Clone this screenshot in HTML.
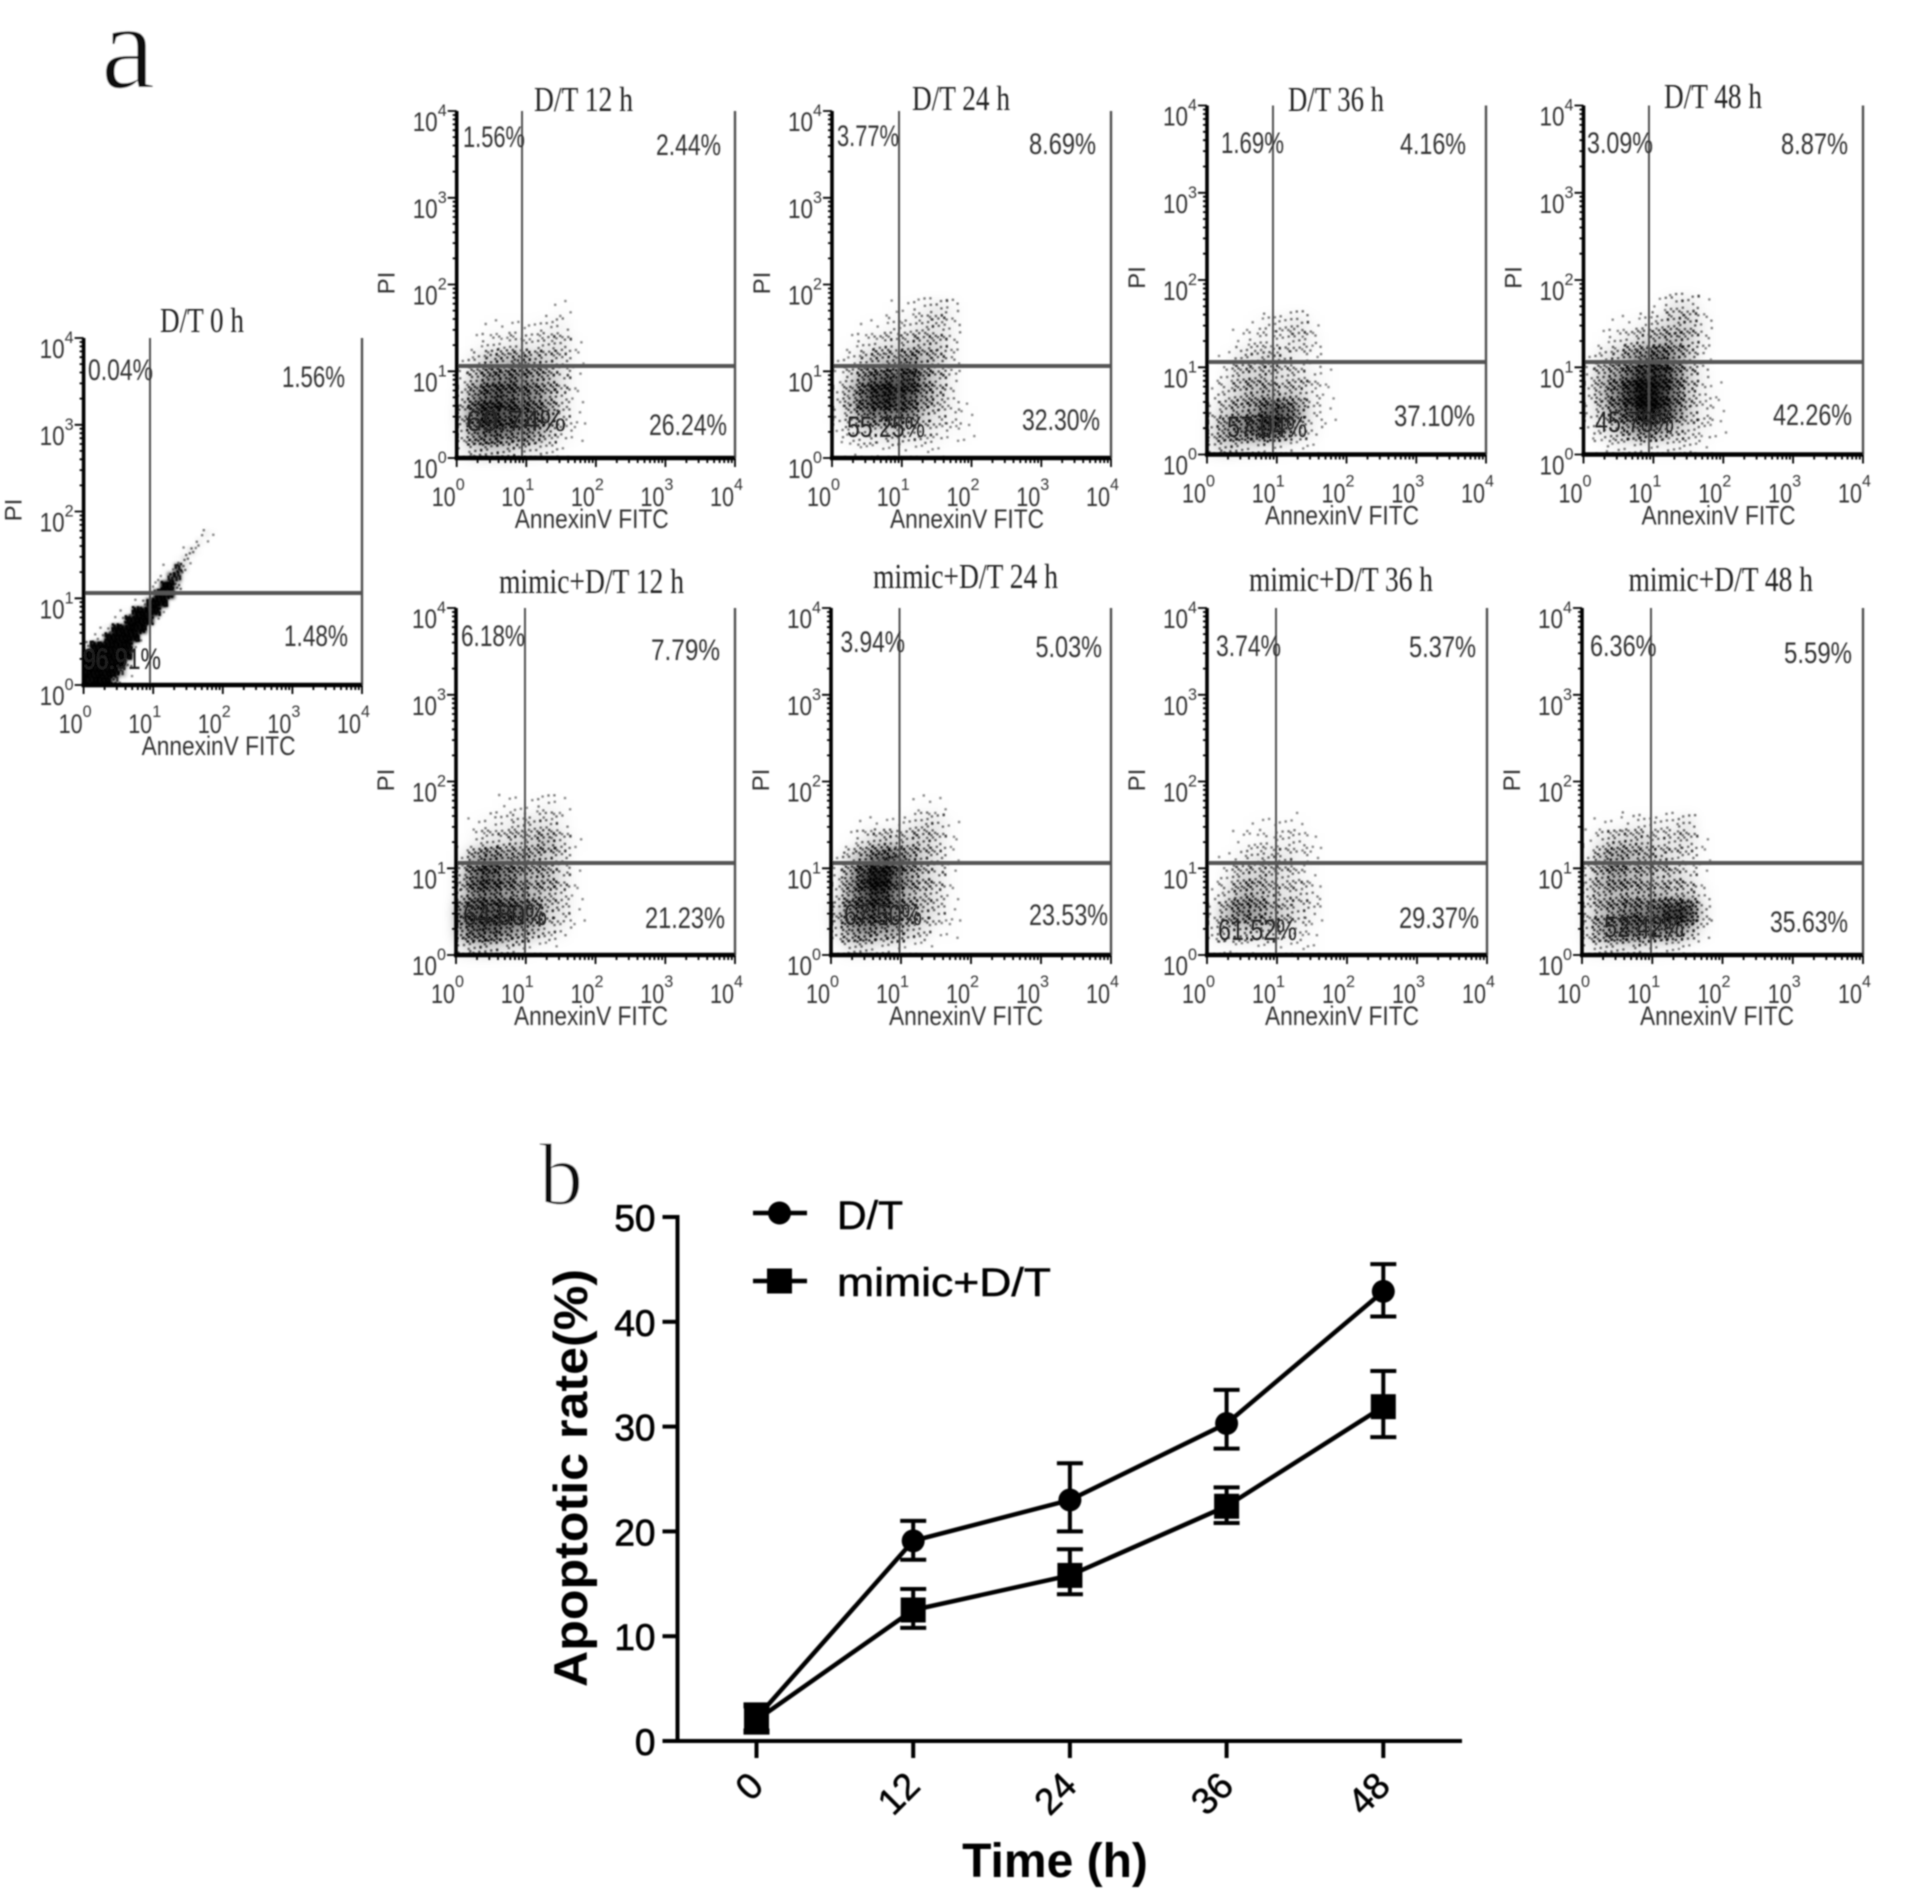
<!DOCTYPE html>
<html lang="en">
<head>
<meta charset="utf-8">
<title>Apoptosis flow cytometry and apoptotic rate</title>
<style>
html,body{margin:0;padding:0;background:#fff;}
svg{display:block;}
text{font-family:"Liberation Sans",sans-serif;}
.serif{font-family:"Liberation Serif",serif;}
</style>
</head>
<body>
<svg id="figure" xmlns="http://www.w3.org/2000/svg" width="1908" height="1898" viewBox="0 0 1908 1898">
<defs>
<filter id="soft" x="-2%" y="-2%" width="104%" height="104%"><feGaussianBlur stdDeviation="0.8"/></filter>
<filter id="toneWide" x="-20%" y="-20%" width="140%" height="140%"><feGaussianBlur stdDeviation="6"/></filter>
<filter id="toneTight" x="-20%" y="-20%" width="140%" height="140%"><feGaussianBlur stdDeviation="1.6"/></filter>
</defs>
<rect x="0" y="0" width="1908" height="1898" fill="#fff"/>
<g id="panelA" filter="url(#soft)"></g>
<g id="panelB" filter="url(#soft)"></g>
</svg>
<script>
// ---------- Panel a data ----------
const panelTitles = ['D/T 0 h','D/T 12 h','D/T 24 h','D/T 36 h','D/T 48 h','mimic+D/T 12 h','mimic+D/T 24 h','mimic+D/T 36 h','mimic+D/T 48 h'];
const upperLeftPercents = ['0.04%','1.56%','3.77%','1.69%','3.09%','6.18%','3.94%','3.74%','6.36%'];
const upperRightPercents = ['1.56%','2.44%','8.69%','4.16%','8.87%','7.79%','5.03%','5.37%','5.59%'];
const lowerLeftPercents = ['96.91%','69.74%','55.25%','57.04%','45.78%','64.80%','67.50%','61.52%','52.42%'];
const lowerRightPercents = ['1.48%','26.24%','32.30%','37.10%','42.26%','21.23%','23.53%','29.37%','35.63%'];
const decadeExponents = [0,1,2,3,4];
const minorMultipliers = [2,3,4,5,6,7,8,9];
const gateLogX = [0.954,0.939,0.961,0.946,0.937,0.989,0.979,0.986,0.982];
const gateLogY = [1.06,1.06,1.06,1.06,1.06,1.06,1.06,1.06,1.06];

// Estimated event density (0-10) in decade bins.
// Rows run from PI 2.0 decades (top) to 0 (bottom); columns from Annexin V 0 to 2.0 decades.
const density0h = [
[0,0,0,0,0,0,0,0,0,0,0,0,0,0,0,0,0,0,0,0],
[0,0,0,0,0,0,0,0,0,0,0,0,0,0,0,0,0,0,0,0],
[0,0,0,0,0,0,0,0,0,0,0,0,0,0,0,0,0,2,1,0],
[0,0,0,0,0,0,0,0,0,0,0,0,0,0,0,0,2,1,0,0],
[0,0,0,0,0,0,0,0,0,0,0,0,0,0,1,3,1,0,0,0],
[0,0,0,0,0,0,0,0,0,0,0,0,0,1,3,1,0,0,0,0],
[0,0,0,0,0,0,0,0,0,0,0,1,1,8,3,0,0,0,0,0],
[0,0,0,0,0,0,0,0,0,0,1,1,8,8,1,0,0,0,0,0],
[0,0,0,0,0,0,0,0,0,1,1,10,10,4,0,0,0,0,0,0],
[0,0,0,0,0,0,0,0,1,1,10,10,10,0,0,0,0,0,0,0],
[0,0,0,0,0,0,0,1,2,10,10,10,0,0,0,0,0,0,0,0],
[0,0,0,0,0,1,1,10,10,10,10,1,0,0,0,0,0,0,0,0],
[0,0,0,0,1,2,10,10,10,10,1,0,0,0,0,0,0,0,0,0],
[0,0,1,2,10,10,10,10,10,1,0,0,0,0,0,0,0,0,0,0],
[0,1,2,10,10,10,10,10,1,0,0,0,0,0,0,0,0,0,0,0],
[3,10,10,10,10,10,10,1,0,0,0,0,0,0,0,0,0,0,0,0],
[10,10,10,10,10,10,10,0,0,0,0,0,0,0,0,0,0,0,0,0],
[10,10,10,10,10,10,3,0,0,0,0,0,0,0,0,0,0,0,0,0],
[10,10,10,10,10,6,1,0,0,0,0,0,0,0,0,0,0,0,0,0],
[10,10,10,10,6,1,0,0,0,0,0,0,0,0,0,0,0,0,0,0]];
const density12h = [
[0,0,0,0,0,0,0,0,0,0],[0,0,0,0,0,0,0,1,0,0],[0,0,1,1,1,1,2,2,0,0],[0,1,2,2,3,2,3,3,1,0],[1,3,5,5,6,5,4,3,1,0],
[2,5,7,7,7,6,5,3,1,0],[3,7,8,8,7,7,5,3,1,0],[4,8,9,8,8,7,6,3,1,0],[3,7,8,7,7,6,4,2,1,0],[2,4,4,4,3,3,2,1,0,0]];
const density24h = [
[0,0,0,0,0,0,0,0,0,0],[0,0,0,0,1,1,2,3,2,0],[0,0,1,1,2,2,3,3,2,0],[0,1,2,3,3,4,4,4,2,0],[1,2,4,5,5,7,5,4,2,0],
[1,4,7,8,8,9,6,4,2,0],[2,5,8,9,9,8,6,4,2,0],[2,4,7,7,7,7,4,3,2,1],[1,2,3,3,4,3,3,2,1,1],[0,1,1,1,1,1,1,1,0,0]];
const density36h = [
[0,0,0,0,0,0,0,0,0,0],[0,0,0,0,0,0,0,0,0,0],[0,0,0,1,2,2,3,1,0,0],[0,0,1,2,2,2,3,2,0,0],[0,1,3,3,4,3,2,1,0,0],
[0,2,4,4,4,3,3,2,1,0],[1,3,4,5,5,4,4,2,1,0],[2,4,5,6,8,8,6,2,1,0],[3,6,7,8,9,7,4,2,0,0],[3,4,3,3,2,2,1,1,0,0]];
const density48h = [
[0,0,0,0,0,0,0,0,0,0],[0,0,0,0,0,1,3,3,1,0],[0,0,1,1,2,3,4,4,2,0],[0,1,2,3,4,5,5,4,2,0],[1,3,4,6,7,8,6,4,1,0],
[2,5,6,8,9,9,7,4,2,0],[2,5,7,9,10,9,7,4,2,1],[2,4,7,8,10,9,7,4,2,1],[1,3,4,6,7,6,4,3,2,1],[0,1,2,2,2,2,2,2,1,0]];
const densityMimic12h = [
[0,0,0,0,0,0,0,0,0,0],[0,0,0,1,1,1,2,1,0,0],[0,1,2,2,3,3,3,2,0,0],[0,2,3,3,4,4,5,3,1,0],[2,6,7,6,6,5,4,3,0,0],
[4,8,8,7,6,5,5,3,1,0],[4,7,7,6,6,5,4,3,1,0],[7,8,8,8,8,7,4,3,1,0],[6,8,8,7,6,5,3,2,0,0],[3,4,4,3,3,1,1,0,0,0]];
const densityMimic24h = [
[0,0,0,0,0,0,0,0,0,0],[0,0,0,0,0,0,1,1,0,0],[0,0,1,1,1,2,3,3,1,0],[0,1,3,4,4,4,4,3,1,0],[1,4,6,8,8,6,4,3,1,0],
[2,6,9,10,8,6,4,3,1,0],[2,6,8,9,7,5,4,3,1,0],[4,7,8,8,7,6,4,3,1,0],[3,6,7,6,6,4,3,1,1,0],[1,3,3,2,2,1,1,0,0,0]];
const densityMimic36h = [
[0,0,0,0,0,0,0,0,0,0],[0,0,0,0,0,0,0,0,0,0],[0,0,0,1,1,1,1,0,0,0],[0,0,1,1,2,2,2,1,0,0],[0,1,2,3,3,3,2,1,0,0],
[0,2,4,4,4,3,2,1,0,0],[1,3,5,5,4,3,3,2,0,0],[2,5,7,6,5,4,3,2,0,0],[2,4,4,4,4,3,2,1,0,0],[1,1,1,1,1,1,1,1,0,0]];
const densityMimic48h = [
[0,0,0,0,0,0,0,0,0,0],[0,0,0,0,0,0,0,0,0,0],[0,1,1,2,2,2,2,3,0,0],[1,3,4,4,4,3,3,3,1,0],[2,5,6,5,5,4,3,2,1,0],
[3,5,6,5,5,4,4,3,1,0],[3,5,5,5,5,5,4,4,2,0],[3,5,6,7,7,8,9,9,3,0],[3,6,7,8,7,7,7,5,2,0],[2,3,3,3,3,2,2,1,0,0]];
const densityGrids = [density0h,density12h,density24h,density36h,density48h,densityMimic12h,densityMimic24h,densityMimic36h,densityMimic48h];

// ---------- Panel b data ----------
const timeCategories = [0,12,24,36,48];
const yTicks = [0,10,20,30,40,50];
const dtValues = [2.2,19.1,23.0,30.3,42.9];
const dtUpper = [3.5,21.0,26.5,33.5,45.5];
const dtLower = [1.0,17.3,20.0,27.9,40.5];
const mimicValues = [2.0,12.5,15.8,22.4,31.9];
const mimicUpper = [3.3,14.5,18.3,24.2,35.3];
const mimicLower = [0.8,10.8,14.0,20.8,29.0];

// ---------- Layout (pixel geometry only) ----------
const frames = [
 {l:83.6,r:362,t:338,b:685,title:[160,244,332],ul:[88,153,380],ur:[282,345,387],ll:[83,161,669],lr:[284,348,646]},
 {l:456.7,r:735,t:111,b:458,title:[534,633,111],ul:[463,525,147],ur:[656,721,155],ll:[466,566,431],lr:[649,727,435]},
 {l:832,r:1111,t:111,b:458,title:[912,1010,110],ul:[837,899,146],ur:[1029,1096,154],ll:[847,925,437],lr:[1022,1100,430]},
 {l:1207,r:1486,t:105.5,b:454.5,title:[1288,1384,111],ul:[1221,1284,153],ur:[1400,1466,154],ll:[1227,1307,437],lr:[1394,1475,426]},
 {l:1583.5,r:1863,t:105.5,b:454.5,title:[1664,1762,108],ul:[1587,1653,153],ur:[1781,1848,154],ll:[1595,1674,432],lr:[1773,1852,425]},
 {l:456,r:735,t:608,b:955,title:[499,684,593],ul:[461,525,646],ur:[651,720,660],ll:[463,547,925],lr:[645,725,928]},
 {l:831,r:1111,t:608,b:955,title:[873,1058,588],ul:[840.5,905,652],ur:[1035.5,1102,657],ll:[844,922,925],lr:[1029,1108,925]},
 {l:1207,r:1487,t:608,b:955,title:[1249,1433,591],ul:[1216,1281,656],ur:[1409,1476,657],ll:[1218,1297,940],lr:[1399,1479,928]},
 {l:1582,r:1863,t:608,b:955,title:[1628.5,1813,591],ul:[1590,1656.5,656],ur:[1784,1852,663],ll:[1604,1684,937],lr:[1770,1848,932]}
];
const SVGNS = 'http://www.w3.org/2000/svg';

function make(tag, attrs, parent){
  const el = document.createElementNS(SVGNS, tag);
  for (const k in attrs) el.setAttribute(k, attrs[k]);
  parent.appendChild(el);
  return el;
}
function makeText(str, attrs, parent){
  const el = make('text', attrs, parent);
  el.textContent = str;
  return el;
}
function boxText(str, box, size, fill, cls, parent){
  const attrs = {x:box[0], y:box[2], 'font-size':size, fill:fill, textLength:box[1]-box[0], lengthAdjust:'spacingAndGlyphs'};
  if (cls) attrs['class'] = cls;
  return makeText(str, attrs, parent);
}

const panelA = document.getElementById('panelA');

frames.forEach(function(f, idx){
  const g = make('g', {}, panelA);
  
  
  const xDecade = function(d){ return f.l + (f.r - f.l) * d / 4; };
  const yDecade = function(d){ return f.b - (f.b - f.t) * d / 4; };

  // density bins: a blurred tone for the local density plus stippled events around the bin
  const grid = densityGrids[idx];
  const nRows = grid.length;
  const nCols = grid[0].length;
  const binX = 2 / nCols, binY = 2 / nRows;
  const fine = nCols > 10;
  const spread = fine ? 1.0 : 1.5;
  const toneGroup = make('g', {filter: fine ? 'url(#toneTight)' : 'url(#toneWide)'}, g);
  
  
  const eventGroup = make('g', {}, g);
  
  
  grid.forEach(function(row, ri){
    row.forEach(function(val, ci){
      if (val <= 0) return;
      const x0 = xDecade(ci * binX);
      const x1 = xDecade((ci + 1) * binX);
      const y0 = yDecade((nRows - ri) * binY);
      const y1 = yDecade((nRows - ri - 1) * binY);
      const w = x1 - x0, h = y1 - y0;
      const tone = make('rect', {x:x0.toFixed(1), y:y0.toFixed(1), width:(w + 0.5).toFixed(1), height:(h + 0.5).toFixed(1), fill:'#000', 'fill-opacity':(Math.pow(val / 10, 2) * 0.95).toFixed(3)}, toneGroup);
      
      
      const count = Math.round(val * 4 * (w * h) / 238);
      const phaseX = ci * 0.37 + ri * 0.61;
      const phaseY = ci * 0.53 + ri * 0.29;
      const offX = (spread - 1) / 2 * w, offY = (spread - 1) / 2 * h;
      let d = '';
      for (let n = 1; n <= count; n++){
        const fx = (n * 0.7548776662 + phaseX) % 1;
        const fy = (n * 0.5698402910 + phaseY) % 1;
        const px = Math.max(f.l, x0 - offX + fx * w * spread - 1.2);
        const py = Math.min(f.b - 2.4, y0 - offY + fy * h * spread - 1.2);
        d += 'M' + px.toFixed(1) + ' ' + py.toFixed(1) + 'h2.4v2.4h-2.4z';
      }
      const cell = make('path', {d:d, fill:'#000', 'fill-opacity':(0.4 + val * 0.05).toFixed(2)}, eventGroup);
      
      
    });
  });

  // gates and frame
  const gateX = xDecade(gateLogX[idx]);
  const gateY = yDecade(gateLogY[idx]);
  const vGate = make('line', {x1:gateX, x2:gateX, y1:f.t, y2:f.b, stroke:'#505050', 'stroke-width':2}, g);
  
  
  const hGate = make('line', {x1:f.l, x2:f.r, y1:gateY, y2:gateY, stroke:'#555', 'stroke-width':4}, g);
  
  
  const rightEdge = make('line', {x1:f.r, x2:f.r, y1:f.t, y2:f.b, stroke:'#505050', 'stroke-width':2.4}, g);
  
  
  const yAxis = make('line', {x1:f.l, x2:f.l, y1:f.t, y2:f.b + 2, stroke:'#000', 'stroke-width':3.6}, g);
  
  
  const xAxis = make('line', {x1:f.l - 2, x2:f.r, y1:f.b, y2:f.b, stroke:'#000', 'stroke-width':4.4}, g);
  
  

  // ticks
  let tickPath = '';
  decadeExponents.forEach(function(e){
    tickPath += 'M' + f.l + ' ' + yDecade(e).toFixed(1) + 'h-9';
    tickPath += 'M' + xDecade(e).toFixed(1) + ' ' + f.b + 'v9';
    if (e < 4) minorMultipliers.forEach(function(m){
      const v = e + Math.log10(m);
      tickPath += 'M' + f.l + ' ' + yDecade(v).toFixed(1) + 'h-4';
      tickPath += 'M' + xDecade(v).toFixed(1) + ' ' + f.b + 'v5';
    });
  });
  const ticks = make('path', {d:tickPath, stroke:'#000', 'stroke-width':1.8, fill:'none'}, g);
  
  

  // tick labels
  decadeExponents.forEach(function(e){
    const yTickY = yDecade(e);
    const yBase = makeText('10', {x:f.l - 44, y:yTickY + 20, 'font-size':27, fill:'#333', textLength:25, lengthAdjust:'spacingAndGlyphs'}, g);
    
    
    const ySup = makeText(String(e), {x:f.l - 19, y:yTickY + 5, 'font-size':17, fill:'#333', textLength:9, lengthAdjust:'spacingAndGlyphs'}, g);
    
    
    const xTickX = xDecade(e);
    const xBase = makeText('10', {x:xTickX - 25, y:f.b + 48, 'font-size':27, fill:'#333', textLength:24, lengthAdjust:'spacingAndGlyphs'}, g);
    
    
    const xSup = makeText(String(e), {x:xTickX - 1, y:f.b + 32, 'font-size':17, fill:'#333', textLength:9, lengthAdjust:'spacingAndGlyphs'}, g);
    
    
  });

  // axis titles
  const xTitle = makeText('AnnexinV FITC', {x:f.l + 58, y:f.b + 70, 'font-size':27, fill:'#333', textLength:154, lengthAdjust:'spacingAndGlyphs'}, g);
  
  
  const yTitleX = f.l - 62, yTitleY = f.t + 172;
  const yTitle = makeText('PI', {x:yTitleX, y:yTitleY, 'font-size':24, fill:'#333', 'text-anchor':'middle', transform:'rotate(-90 ' + yTitleX + ' ' + yTitleY + ')'}, g);
  
  

  // title and percentages
  const title = boxText(panelTitles[idx], f.title, 35, '#222', 'serif', g);
  
  
  const ul = boxText(upperLeftPercents[idx], f.ul, 30, '#333', '', g);
  
  
  const ur = boxText(upperRightPercents[idx], f.ur, 30, '#333', '', g);
  
  
  const ll = boxText(lowerLeftPercents[idx], f.ll, 30, '#222', '', g);
  
  
  const lr = boxText(lowerRightPercents[idx], f.lr, 30, '#333', '', g);
  
  
});

const labelA = makeText('a', {x:101, y:88, 'font-size':122, fill:'#111', stroke:'#fff', 'stroke-width':1.6, 'class':'serif'}, panelA);



// ---------- Panel b ----------
const panelB = document.getElementById('panelB');
const X0 = 756.5, XSTEP = 156.7, Y0 = 1741, YPER = 10.48, AXIS_X = 677.5;
function xScale(h){ return X0 + (h / 12) * XSTEP; }
function yScale(v){ return Y0 - v * YPER; }

const labelB = makeText('b', {x:539, y:1204, 'font-size':88, fill:'#111', stroke:'#fff', 'stroke-width':1.2, 'class':'serif'}, panelB);



const chartYAxis = make('line', {x1:AXIS_X, x2:AXIS_X, y1:yScale(50) - 2, y2:yScale(0) + 2, stroke:'#000', 'stroke-width':4}, panelB);


const chartXAxis = make('line', {x1:AXIS_X - 15, x2:1462, y1:yScale(0), y2:yScale(0), stroke:'#000', 'stroke-width':4}, panelB);



yTicks.forEach(function(v){
  const tick = make('line', {x1:AXIS_X - 15, x2:AXIS_X, y1:yScale(v), y2:yScale(v), stroke:'#000', 'stroke-width':4}, panelB);
  
  
  const lab = makeText(String(v), {x:AXIS_X - 22, y:yScale(v) + 14, 'font-size':37, fill:'#000', stroke:'#000', 'stroke-width':0.7, 'text-anchor':'end'}, panelB);
  
  
});
timeCategories.forEach(function(h){
  const tick = make('line', {x1:xScale(h), x2:xScale(h), y1:yScale(0), y2:yScale(0) + 17, stroke:'#000', 'stroke-width':4}, panelB);
  
  
  const lx = xScale(h) + 2, ly = yScale(0) + 40;
  const lab = makeText(String(h), {x:lx, y:ly, 'font-size':37, fill:'#000', stroke:'#000', 'stroke-width':0.5, 'text-anchor':'end', 'dominant-baseline':'middle', transform:'rotate(-45 ' + lx + ' ' + ly + ')'}, panelB);
  
  
});

const timeTitle = makeText('Time (h)', {x:1055, y:1877, 'font-size':48, 'font-weight':'bold', fill:'#000', 'text-anchor':'middle'}, panelB);


const rateTitle = makeText('Apoptotic rate(%)', {x:587, y:1478, 'font-size':47, 'font-weight':'bold', fill:'#000', 'text-anchor':'middle', textLength:418, lengthAdjust:'spacingAndGlyphs', transform:'rotate(-90 587 1478)'}, panelB);



function drawSeries(values, upper, lower, shape, name){
  const pts = values.map(function(v, i){ return xScale(timeCategories[i]).toFixed(1) + ',' + yScale(v).toFixed(1); }).join(' ');
  const line = make('polyline', {points:pts, fill:'none', stroke:'#000', 'stroke-width':4.5}, panelB);
  
  
  values.forEach(function(v, i){
    const x = xScale(timeCategories[i]);
    const yU = yScale(upper[i]), yL = yScale(lower[i]);
    const err = make('path', {d:'M' + (x - 13) + ' ' + yU + 'h26M' + x + ' ' + yU + 'V' + yL + 'M' + (x - 13) + ' ' + yL + 'h26', fill:'none', stroke:'#000', 'stroke-width':4}, panelB);
    
    
    let mark;
    if (shape === 'circle'){
      mark = make('circle', {cx:x, cy:yScale(v), r:11.5, fill:'#000'}, panelB);
    } else {
      mark = make('rect', {x:x - 12.5, y:yScale(v) - 12.5, width:25, height:25, fill:'#000'}, panelB);
    }
    
    
  });
}
drawSeries(dtValues, dtUpper, dtLower, 'circle', 'dt');
drawSeries(mimicValues, mimicUpper, mimicLower, 'square', 'mimic-dt');

// legend
const legendDtLine = make('line', {x1:753, x2:807, y1:1213, y2:1213, stroke:'#000', 'stroke-width':4.5}, panelB);


const legendDtMark = make('circle', {cx:779.5, cy:1213, r:11.5, fill:'#000'}, panelB);


const legendDtText = makeText('D/T', {x:837, y:1229, 'font-size':40, fill:'#000', stroke:'#000', 'stroke-width':0.5, textLength:66, lengthAdjust:'spacingAndGlyphs'}, panelB);


const legendMimicLine = make('line', {x1:753, x2:807, y1:1281, y2:1281, stroke:'#000', 'stroke-width':4.5}, panelB);


const legendMimicMark = make('rect', {x:767, y:1268.5, width:25, height:25, fill:'#000'}, panelB);


const legendMimicText = makeText('mimic+D/T', {x:837, y:1296, 'font-size':40, fill:'#000', stroke:'#000', 'stroke-width':0.5, textLength:214, lengthAdjust:'spacingAndGlyphs'}, panelB);


</script>
</body>
</html>
